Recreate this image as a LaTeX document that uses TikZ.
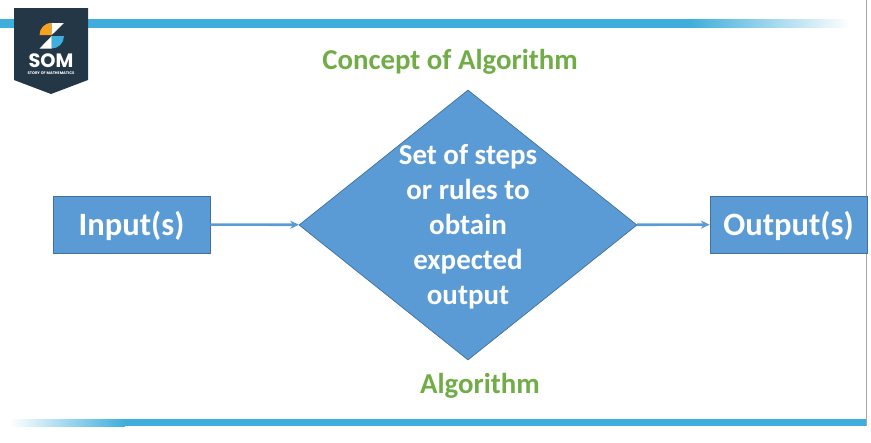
\documentclass[tikz,border=0pt]{standalone}
\usepackage{fontspec}
\usepackage{tikz}
\usetikzlibrary{arrows.meta, shapes.geometric}
\setmainfont{Carlito}
\newfontfamily\logofont{Poppins}
\definecolor{boxblue}{HTML}{5B9BD5}
\definecolor{boxedge}{HTML}{41719C}
\definecolor{barblue}{HTML}{3FAEDC}
\definecolor{titlegreen}{HTML}{70AD47}
\definecolor{logodark}{HTML}{243746}
\definecolor{logoorange}{HTML}{F5A21F}
\tikzset{
    flowbox/.style={draw=boxedge, fill=boxblue, text=white, line width=0.6pt, minimum width=4.71cm, minimum height=1.71cm, inner sep=0pt, text height=22pt, text depth=4pt, font=\fontsize{27.8}{32}\selectfont\bfseries},
    flowlabel/.style={text=titlegreen, inner sep=0pt, font=\fontsize{24.6}{28}\selectfont\bfseries},
    flowarrow/.style={-{Stealth[length=7.5pt, width=7pt]}, boxblue, line width=2.2pt}
}

\begin{document}
\begin{tikzpicture}[x=0.03cm, y=-0.03cm, >=Stealth]
\useasboundingbox (0,0) rectangle (871,442);

% ── Bars ─────────────────────────────────────────────────────────
\fill[barblue] (0,19) rectangle (690,27.5);
\shade[left color=barblue, right color=white, draw=none] (690,19) rectangle (850,27.5);
\shade[left color=white, right color=barblue, draw=none] (10,419) rectangle (125,426);
\fill[barblue] (125,419) rectangle (867,426);
\draw[gray!70, line width=0.5pt] (866.5,0) -- (866.5,426);

% ── Logo ─────────────────────────────────────────────────────────
\fill[logodark] (14,8) -- (88,8) -- (88,80) -- (51,94) -- (14,80) -- cycle;
\fill[logoorange] (51.7,35) -- (39.5,35) arc (180:270:12.2) -- cycle;
\fill[white] (51.7,23) -- (64,23) -- (51.7,35) -- cycle;
\fill[barblue] (51.7,36) -- (64,36) arc (0:90:12.6) -- cycle;
\fill[white] (51.7,36) -- (51.7,48.6) -- (39.5,48.6) -- cycle;
\node[text=white, inner sep=0pt, text height=10.5pt, text depth=0pt, font=\logofont\fontsize{16.5}{17}\selectfont\bfseries] (logoname) at (51,61.5) {SOM};
\node[text=white, inner sep=0pt, text height=2.4pt, text depth=0pt, font=\logofont\fontsize{3.2}{4}\selectfont\bfseries] (logotag) at (51,73) {STORY OF MATHEMATICS};

% ── Flow ─────────────────────────────────────────────────────────
\node[flowbox] (input) at (131.5,224.5) {Input(s)};
\node[flowbox] (output) at (788.5,224.5) {Output(s)};
\node[diamond, draw=boxedge, fill=boxblue, text=white, line width=0.6pt, aspect=1.25, inner sep=-8pt, minimum width=10.14cm, minimum height=8.1cm, align=center, font=\fontsize{24.7}{29.9}\selectfont\bfseries] (algo) at (468,225)
    {\rule{0pt}{20pt}Set of steps\\or rules to\\obtain\\expected\\output};

\draw[flowarrow] (input) -- (algo);
\draw[flowarrow] (algo) -- (output);

% ── Labels ───────────────────────────────────────────────────────
\node[flowlabel] (concept) at (450,62) {Concept of Algorithm};
\node[flowlabel] (algoname) at (480,386) {Algorithm};

\end{tikzpicture}
\end{document}
